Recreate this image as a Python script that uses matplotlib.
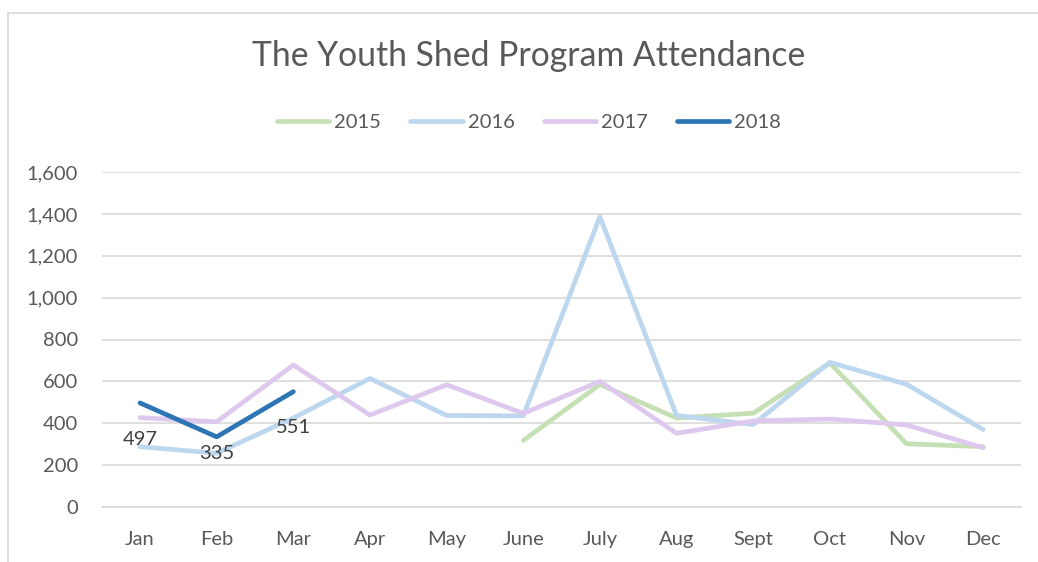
import matplotlib
matplotlib.use("Agg")
import matplotlib.pyplot as plt
from matplotlib.lines import Line2D
import numpy as np

months = ["Jan", "Feb", "Mar", "Apr", "May", "June", "July", "Aug", "Sept", "Oct", "Nov", "Dec"]
s2015 = [None, None, None, None, None, 318, 585, 425, 448, 688, 302, 288]
s2016 = [288, 257, 425, 614, 437, 435, 1386, 437, 394, 691, 586, 370]
s2017 = [427, 407, 678, 439, 584, 447, 600, 352, 411, 420, 392, 283]
s2018 = [497, 335, 551]
yticks = [0, 200, 400, 600, 800, 1000, 1200, 1400, 1600]

series = [("2015", s2015, "#C5E0B4"), ("2016", s2016, "#BDD7EE"),
          ("2017", s2017, "#DFC8ED"), ("2018", s2018, "#2E75B6")]

plt.rcParams['font.family'] = ['Lato', 'DejaVu Sans']
W, H = 1038, 562
fig = plt.figure(figsize=(W / 100, H / 100), dpi=100)
ax = fig.add_axes([101.7 / W, 1 - 507 / H, (1021.5 - 101.7) / W, (507 - 172) / H])

txt = "#595959"
x = np.arange(len(months))
for name, vals, col in series:
    v = np.array([np.nan if a is None else a for a in vals], dtype=float)
    ax.plot(x[:len(v)], v, color=col, lw=3.4, solid_capstyle='round',
            solid_joinstyle='round', label=name, zorder=3)

# data labels for 2018
offs = [-37, -17, -36]
for i, val in enumerate(s2018):
    ax.annotate(f"{val}", (x[i], val), xytext=(0, offs[i] * 0.72), textcoords='offset points',
                ha='center', va='center', fontsize=14.5, color="#404040", zorder=4)

ax.set_xlim(-0.5, len(months) - 0.5)
ax.set_ylim(0, 1600)
ax.set_yticks(yticks)
ax.set_yticklabels([f"{t:,}" for t in yticks])
ax.set_xticks(x)
ax.set_xticklabels(months)
ax.tick_params(axis='both', length=0, labelsize=14.5, colors=txt)
ax.tick_params(axis='y', pad=17)
ax.tick_params(axis='x', pad=17)
for sp in ['top', 'right', 'left']:
    ax.spines[sp].set_visible(False)
ax.spines['bottom'].set_color('#d9d9d9')
ax.spines['bottom'].set_linewidth(1.2)
ax.grid(axis='y', color='#d9d9d9', lw=1.2, zorder=0)
ax.set_axisbelow(True)

fig.text(529 / W, 1 - 56 / H, "The Youth Shed Program Attendance", ha='center', va='center',
         fontsize=24.3, color=txt)

handles = [Line2D([0], [0], color=c, lw=3.4, solid_capstyle='round') for _, _, c in series]
leg = fig.legend(handles, [n for n, _, _ in series], loc='center', ncol=4,
                 bbox_to_anchor=(529 / W, 1 - 122 / H), frameon=False, fontsize=14.5,
                 handlelength=2.6, handletextpad=0.25, columnspacing=1.45, labelcolor=txt)

# chart border (left & top)
fig.add_artist(Line2D([8 / W, 8 / W], [0, 1 - 13 / H], color='#d9d9d9', lw=1.2))
fig.add_artist(Line2D([8 / W, 1], [1 - 13 / H, 1 - 13 / H], color='#d9d9d9', lw=1.2))

fig.savefig("out.png", dpi=100)
